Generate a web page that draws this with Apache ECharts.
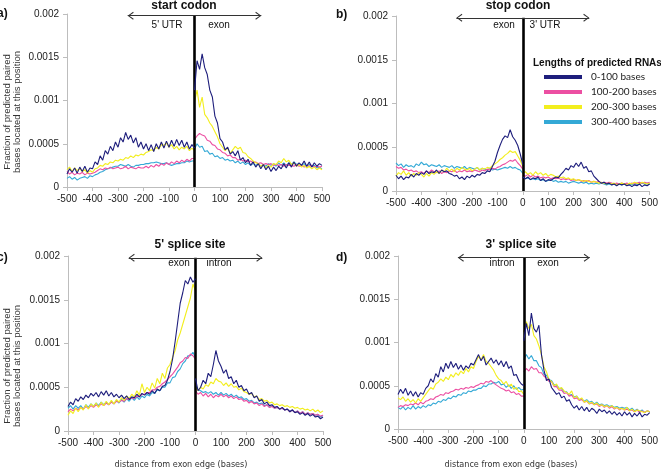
<!DOCTYPE html>
<html><head><meta charset="utf-8">
<script src="https://cdn.jsdelivr.net/npm/echarts@6/dist/echarts.min.js"></script>
<style>html,body{margin:0;padding:0;background:#fff}#c{width:661px;height:470px}</style>
</head><body><div id="c"></div><script>
// x positions (bases from exon edge), left and right of the edge
const POS_LEFT = [-500,-490,-480,-470,-460,-450,-440,-430,-420,-410,-400,-390,-380,-370,-360,-350,-340,-330,-320,-310,-300,-290,-280,-270,-260,-250,-240,-230,-220,-210,-200,-190,-180,-170,-160,-150,-140,-130,-120,-110,-100,-90,-80,-70,-60,-50,-40,-30,-20,-10,0];
const POS_RIGHT = [0,10,20,30,40,50,60,70,80,90,100,110,120,130,140,150,160,170,180,190,200,210,220,230,240,250,260,270,280,290,300,310,320,330,340,350,360,370,380,390,400,410,420,430,440,450,460,470,480,490,500];
const SERIES_NAMES = ['0-100 bases','100-200 bases','200-300 bases','300-400 bases'];
const COLORS = ['#1e1e7c','#ec4fa2','#f2ee1e','#34a9d6'];
const X_TICKS = [-500,-400,-300,-200,-100,0,100,200,300,400,500];
const Y_TICKS = [0,0.0005,0.001,0.0015,0.002];
const UNIT = 1e-5; // values below are in units of 1e-5

// a) start codon
const A_N_L = [15,21,17,22,16,23,18,24,17,22,21,29,26,36,31,42,38,47,42,52,46,57,52,63,55,60,51,57,46,52,44,50,42,49,41,50,44,52,45,53,46,54,47,55,48,54,46,52,44,49,45];
const A_N_R = [112,146,136,154,138,130,112,104,82,74,56,52,43,46,38,41,36,42,31,34,28,32,25,29,23,27,21,26,20,24,18,23,19,24,21,27,22,28,23,29,24,28,25,30,24,29,23,28,24,27,25];
const A_P_L = [18,15,17,14,16,15,17,14,16,15,16,17,19,21,20,22,21,23,21,22,23,21,22,24,21,23,22,21,23,22,22,24,22,25,23,26,24,27,25,28,26,29,27,30,28,31,29,32,30,33,33];
const A_P_R = [55,59,62,60,59,54,53,49,48,44,43,40,39,36,37,34,34,31,32,30,31,29,30,28,29,27,28,26,27,26,27,25,26,25,26,24,26,25,25,24,26,24,25,23,25,24,25,23,24,23,24];
const A_Y_L = [20,23,18,22,19,21,18,20,16,19,17,21,22,25,24,27,26,29,28,31,30,32,31,34,33,36,34,37,36,38,37,40,41,43,42,46,44,49,48,51,46,49,44,47,43,46,44,47,42,45,42];
const A_Y_R = [98,112,92,104,84,80,74,70,64,58,50,46,42,45,39,43,47,44,46,40,39,35,33,30,28,27,24,26,22,25,23,27,26,30,28,33,29,31,26,28,24,26,23,25,22,24,21,23,20,22,20];
const A_C_L = [10,12,9,11,8,10,11,12,10,13,12,14,15,17,18,20,21,22,23,24,24,26,25,24,26,24,23,25,25,26,26,27,27,28,28,29,28,27,27,28,26,25,26,27,27,28,28,30,29,30,30];
const A_C_R = [44,50,46,47,41,42,38,39,35,36,33,34,31,32,30,31,28,30,27,29,26,28,25,27,25,27,24,26,24,27,25,27,24,28,25,28,25,28,26,29,26,27,25,27,24,26,24,25,22,23,21];

// b) stop codon
const B_N_L = [18,14,17,13,16,15,19,16,20,18,21,19,23,20,22,21,24,20,24,22,23,20,19,17,18,14,16,13,17,15,18,16,19,18,21,20,23,22,28,34,44,52,59,63,61,70,62,58,52,42,30];
const B_N_R = [16,14,16,13,15,14,16,12,14,11,13,12,14,16,15,19,22,26,24,29,27,32,28,33,26,28,22,23,17,14,11,9,10,8,9,7,8,6,8,7,8,6,7,5,7,6,8,5,7,6,8];
const B_P_L = [28,26,27,24,25,23,24,22,23,21,22,20,23,21,24,22,21,23,20,22,21,23,22,24,21,23,22,24,22,23,22,24,23,22,24,23,25,24,26,25,27,28,30,31,33,35,34,36,32,29,25];
const B_P_R = [18,17,19,16,18,16,17,15,16,15,16,14,15,14,15,13,14,13,14,12,13,12,13,11,12,11,12,10,11,10,11,9,10,9,10,9,8,9,8,9,8,9,8,9,8,9,10,9,10,9,10];
const B_Y_L = [17,21,19,23,18,21,17,20,18,21,19,16,20,17,21,19,22,20,24,22,26,23,25,22,26,24,27,25,24,26,23,25,27,24,26,25,27,26,29,31,33,36,38,41,43,46,44,45,40,35,28];
const B_Y_R = [20,22,19,21,18,22,19,21,18,20,17,19,18,16,17,15,16,14,15,13,14,12,13,12,11,12,11,10,11,10,9,10,9,8,9,8,9,7,8,9,8,7,9,8,10,9,8,10,9,8,9];
const B_C_L = [32,29,31,27,30,28,29,27,31,29,33,30,31,28,30,29,28,30,27,29,28,27,29,26,28,27,26,28,25,27,26,25,27,24,26,25,24,26,24,25,24,25,26,27,26,28,26,27,25,24,20];
const B_C_R = [16,14,15,13,14,13,14,12,13,11,12,13,11,12,10,11,10,11,9,10,11,10,9,10,9,10,8,9,8,9,8,9,8,7,8,7,8,7,8,7,8,7,8,7,8,7,8,9,8,8,8];

// c) 5' splice site
const C_N_L = [28,33,30,37,34,39,36,41,38,43,40,44,39,45,41,46,40,44,39,42,38,41,37,40,36,39,38,42,39,43,41,44,42,46,43,48,46,51,52,58,68,82,102,124,146,158,172,168,176,170,174];
const C_N_R = [60,46,50,58,54,66,62,76,92,80,74,66,70,60,62,54,58,50,52,46,48,42,44,38,40,34,36,31,33,29,30,27,28,25,27,24,25,22,24,21,22,19,21,18,20,17,19,16,17,14,16];
const C_P_L = [22,25,23,26,24,27,25,28,26,29,27,30,28,31,29,32,30,33,31,34,33,35,34,37,36,38,37,40,39,42,42,44,44,47,47,50,51,54,56,59,62,65,69,73,78,80,84,83,88,86,82];
const C_P_R = [46,42,44,40,43,39,42,38,41,39,42,39,41,38,40,37,39,36,37,34,35,32,34,31,32,29,31,28,30,27,28,26,27,25,26,24,25,22,24,21,23,20,22,19,21,19,20,18,19,17,18];
const C_Y_L = [18,23,20,26,22,27,24,30,25,31,28,32,27,33,29,34,30,35,31,36,33,38,35,40,37,42,39,46,41,54,44,50,46,55,49,60,54,66,60,72,76,84,92,104,112,122,132,142,152,168,160];
const C_Y_R = [50,46,50,48,53,51,56,54,60,57,56,52,55,51,54,50,51,47,49,45,44,42,43,39,40,36,37,34,35,32,33,30,31,29,30,28,29,27,28,26,27,25,26,24,25,23,25,22,24,21,23];
const C_C_L = [26,29,25,29,26,29,25,30,27,31,28,32,29,33,30,33,30,34,31,35,32,36,33,37,34,38,35,39,36,40,38,42,40,44,43,47,46,50,50,55,55,61,62,68,71,77,80,86,86,90,84];
const C_C_R = [52,47,46,44,45,43,45,42,44,41,44,41,43,40,42,39,41,38,39,36,37,34,35,32,33,31,32,29,30,27,29,26,27,25,26,24,25,23,24,21,23,20,22,19,21,19,20,18,19,16,18];

// d) 3' splice site
const D_N_L = [40,46,41,47,39,44,38,43,37,42,40,47,50,58,54,64,60,72,66,76,70,78,71,76,69,74,68,73,70,76,74,80,86,79,84,74,78,82,76,80,74,79,72,78,70,73,62,63,56,52,50];
const D_N_R = [102,122,108,134,116,112,120,86,68,56,58,48,44,40,42,36,38,32,34,28,24,27,22,26,21,25,20,24,22,18,23,20,22,18,21,17,20,16,19,15,20,16,19,14,18,15,19,14,17,16,19];
const D_P_L = [25,27,26,28,27,29,28,30,28,31,29,32,33,35,34,37,38,40,39,42,41,43,44,46,45,47,46,48,47,49,48,50,51,53,52,55,54,56,53,51,49,47,46,44,45,42,43,40,41,38,38];
const D_P_R = [66,70,67,72,69,70,65,65,61,59,55,55,49,49,45,45,41,42,38,39,35,36,33,34,31,32,29,30,28,29,26,28,25,27,24,26,23,25,22,24,22,23,21,22,20,22,19,21,19,21,20];
const D_Y_L = [36,34,37,32,35,31,34,30,35,32,36,40,44,48,46,52,54,58,55,60,57,63,60,65,62,67,64,70,66,72,70,78,84,80,86,78,76,72,68,62,58,56,52,55,49,52,46,48,43,44,40];
const D_Y_R = [112,124,116,121,108,104,96,86,72,66,57,55,50,52,46,48,44,42,40,44,36,38,34,36,31,33,29,31,28,30,27,28,26,27,25,27,24,25,23,24,22,25,21,23,20,22,21,20,19,21,20];
const D_C_L = [25,23,26,22,25,23,27,23,26,24,27,25,28,27,30,29,32,31,34,33,36,35,38,37,40,39,42,41,44,43,45,45,47,47,50,49,52,52,54,53,55,51,52,48,51,47,50,46,48,45,46];
const D_C_R = [80,86,81,85,79,79,73,71,63,62,57,56,51,51,47,47,43,43,39,40,37,38,34,35,32,34,31,32,29,31,28,29,27,28,26,27,25,26,24,25,24,25,22,24,21,23,20,22,19,21,20];

const PANELS = [
  {grid:{left:67,top:14,width:255,height:173}, lines:[[A_N_L,A_N_R],[A_P_L,A_P_R],[A_Y_L,A_Y_R],[A_C_L,A_C_R]]},
  {grid:{left:396,top:16,width:255,height:175}, lines:[[B_N_L,B_N_R],[B_P_L,B_P_R],[B_Y_L,B_Y_R],[B_C_L,B_C_R]]},
  {grid:{left:68,top:256,width:255,height:175}, lines:[[C_N_L,C_N_R],[C_P_L,C_P_R],[C_Y_L,C_Y_R],[C_C_L,C_C_R]]},
  {grid:{left:398,top:256,width:254,height:173}, lines:[[D_N_L,D_N_R],[D_P_L,D_P_R],[D_Y_L,D_Y_R],[D_C_L,D_C_R]]}
];
const DRAW_ORDER = [3,1,2,0];
const ARROW = 'path://M5,0L5.02,0L5,0.02Z M5,10L10,19L8.8,20L5,12.6L1.2,20L0,19Z';
const FONT = 'Liberation Sans';
const NARROW = '"Liberation Sans Narrow", "DejaVu Sans Condensed", "Liberation Sans"';

const grids = [], xAxes = [], yAxes = [], series = [];
PANELS.forEach((p, k) => {
  grids.push(p.grid);
  xAxes.push({type:'value', gridIndex:k, min:X_TICKS[0], max:X_TICKS[X_TICKS.length-1], interval:100,
    axisLine:{onZero:false, lineStyle:{color:'#bdbdbd', width:1}},
    axisTick:{show:true, length:4, lineStyle:{color:'#bdbdbd'}},
    axisLabel:{color:'#222', fontSize:10, fontFamily:FONT, margin:7, showMaxLabel:true, showMinLabel:true},
    splitLine:{show:false}});
  yAxes.push({type:'value', gridIndex:k, min:Y_TICKS[0], max:Y_TICKS[Y_TICKS.length-1], interval:0.0005,
    axisLine:{show:true, onZero:false, lineStyle:{color:'#bdbdbd', width:1}},
    axisTick:{show:true, length:4, lineStyle:{color:'#bdbdbd'}},
    axisLabel:{color:'#222', fontSize:10, fontFamily:FONT, margin:8,
      formatter: v => v === 0 ? '0' : String(parseFloat(v.toFixed(5)))},
    splitLine:{show:false}});
  DRAW_ORDER.forEach((j, o) => {
    [[POS_LEFT, p.lines[j][0]], [POS_RIGHT, p.lines[j][1]]].forEach(([pos, vals]) => {
      series.push({type:'line', name:SERIES_NAMES[j], xAxisIndex:k, yAxisIndex:k,
        data: vals.map((v, i) => [pos[i], v * UNIT]),
        symbol:'none', showSymbol:false, silent:true, animation:false, z:2 + o,
        color: COLORS[j], itemStyle:{color:COLORS[j]},
        lineStyle:{color:COLORS[j], width:1.1}});
    });
  });
  series.push({type:'line', xAxisIndex:k, yAxisIndex:k, data:[[0, null]], symbol:'none', silent:true, animation:false, z:10,
    markLine:{silent:true, animation:false, symbol:'none', label:{show:false},
      data:[
        [{coord:[0,0], lineStyle:{color:'#000', width:2.6, type:'solid'}}, {coord:[0,0.00198]}],
        [{coord:[-262,0.00198], symbol:ARROW, symbolSize:[8,12], lineStyle:{color:'#333', width:1.2, type:'solid'}, itemStyle:{color:'#333'}},
         {coord:[262,0.00198], symbol:ARROW, symbolSize:[8,12]}]
      ]}});
});

function txt(x, y, s, opt) {
  return Object.assign({type:'text', x:x, y:y, silent:true,
    style:Object.assign({text:s, fill:'#111', font:'10px "' + FONT + '"', textAlign:'center', textVerticalAlign:'middle'}, opt || {})});
}
const graphic = [
  txt(184, 6, 'start codon', {font:'bold 12px "' + FONT + '"'}),
  txt(518, 6, 'stop codon', {font:'bold 12px "' + FONT + '"'}),
  txt(190, 245, "5' splice site", {font:'bold 12px "' + FONT + '"'}),
  txt(521, 245, "3' splice site", {font:'bold 12px "' + FONT + '"'}),
  txt(-3, 14, 'a)', {font:'bold 12px "' + FONT + '"', textAlign:'left'}),
  txt(336, 15, 'b)', {font:'bold 12px "' + FONT + '"', textAlign:'left'}),
  txt(-3, 258, 'c)', {font:'bold 12px "' + FONT + '"', textAlign:'left'}),
  txt(336, 258, 'd)', {font:'bold 12px "' + FONT + '"', textAlign:'left'}),
  txt(167, 25, "5' UTR"), txt(219, 25, 'exon'),
  txt(504, 25, 'exon'), txt(545, 25, "3' UTR"),
  txt(179, 263, 'exon'), txt(219, 263, 'intron'),
  txt(502, 263, 'intron'), txt(548, 263, 'exon'),
  txt(181, 465, 'distance from exon edge (bases)', {fill:'#333', font:'9px ' + NARROW}),
  txt(511, 465, 'distance from exon edge (bases)', {fill:'#333', font:'9px ' + NARROW}),
  {type:'text', x:12, y:112, rotation:Math.PI/2, silent:true,
    style:{text:'Fraction of predicted paired\nbases located at this position', fill:'#333', font:'9.5px "' + FONT + '"', textAlign:'center', textVerticalAlign:'middle', lineHeight:10}},
  {type:'text', x:12, y:366, rotation:Math.PI/2, silent:true,
    style:{text:'Fraction of predicted paired\nbases located at this position', fill:'#333', font:'9.5px "' + FONT + '"', textAlign:'center', textVerticalAlign:'middle', lineHeight:10}},
  txt(533, 63, 'Lengths of predicted RNAs', {font:'bold 10px "' + FONT + '"', textAlign:'left'})
];

const chart = echarts.init(document.getElementById('c'), null, {renderer:'canvas'});
chart.setOption({
  backgroundColor:'#fff', animation:false,
  grid:grids, xAxis:xAxes, yAxis:yAxes, series:series, graphic:graphic,
  legend:{data:SERIES_NAMES, orient:'vertical', left:544, top:71, padding:0, itemWidth:38, itemHeight:4, itemGap:3,
    icon:'rect', selectedMode:false,
    textStyle:{fontFamily:'Lato', fontSize:10, color:'#222', lineHeight:12, padding:[0,0,0,4]}}
});
</script></body></html>
